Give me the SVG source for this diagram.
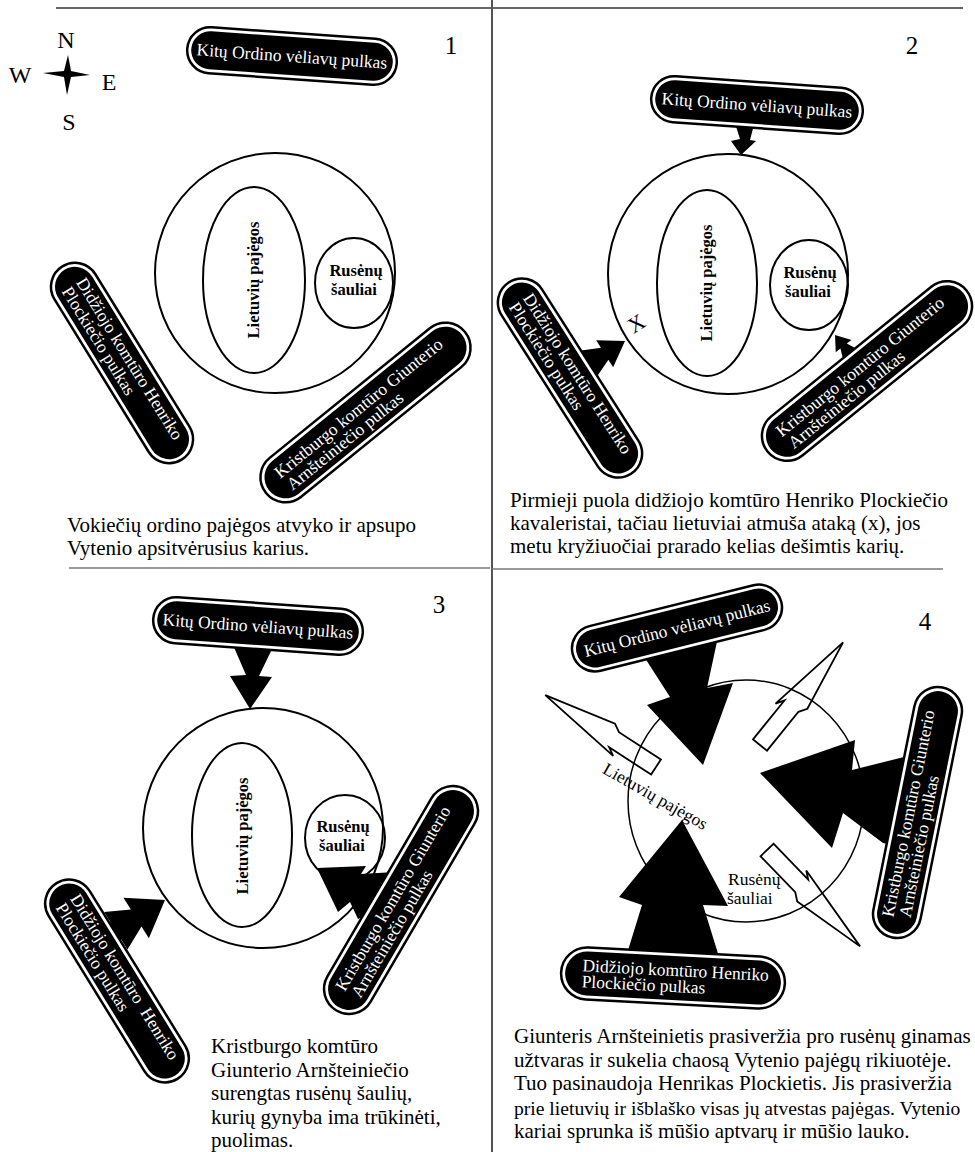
<svg xmlns="http://www.w3.org/2000/svg" width="975" height="1152" viewBox="0 0 975 1152">
<defs>
<style>
text{font-family:"Liberation Serif","DejaVu Serif",serif;fill:#000}
.cap{font-size:21px}
.num{font-size:25px;text-anchor:middle}
.cmp{font-size:24px;text-anchor:middle}
.lbl{font-size:17.5px;fill:#fff}
.lblc{font-size:17.5px;fill:#fff;text-anchor:middle}
.bold{font-size:16.5px;font-weight:bold;text-anchor:middle}
.reg{font-size:17.5px}
.po{fill:#fff;stroke:#000;stroke-width:2.5}
.pi{fill:#000}
.ring{fill:none;stroke:#000;stroke-width:2}
.thin{fill:none;stroke:#000;stroke-width:1.5}
.arr{fill:#000}
.bolt{fill:none;stroke:#000;stroke-width:1.8;stroke-linejoin:miter}
</style>
</defs>
<rect width="975" height="1152" fill="#fff"/>
<g id="dividers">
<line x1="56" y1="8" x2="963" y2="8" stroke="#333" stroke-width="1.5"/>
<line x1="492" y1="0" x2="492" y2="1152" stroke="#555" stroke-width="2"/>
<line x1="69" y1="568" x2="490" y2="568" stroke="#777" stroke-width="1.5"/>
<line x1="492" y1="569" x2="943" y2="569" stroke="#777" stroke-width="1.5"/>
</g>

<!-- Panel 1 -->
<g id="p1-compass">
<polygon points="68,55 71,71 90,75 71,77 67,95 64,77 43,73 64,71" fill="#000"/>
<text class="cmp" x="66" y="48">N</text>
<text class="cmp" x="20" y="83">W</text>
<text class="cmp" x="109" y="90">E</text>
<text class="cmp" x="69" y="130">S</text>
</g>
<text class="num" x="451" y="54">1</text>
<g id="p1-camp"><circle class="ring" cx="275" cy="273" r="120"/></g>
<g id="p1-lietuviai"><ellipse class="ring" cx="254" cy="280" rx="51" ry="93"/><text class="bold" transform="translate(259,280) rotate(-90)">Lietuvių pajėgos</text></g>
<g id="p1-rusenai"><ellipse class="ring" cx="354" cy="283" rx="39" ry="45"/><text class="bold" x="356" y="276">Rusėnų</text><text class="bold" x="354" y="295">šauliai</text></g>

<!-- Panel 2 -->
<text class="num" x="912" y="54">2</text>
<g id="p2-camp"><circle class="ring" cx="728" cy="274" r="120"/></g>
<g id="p2-lietuviai"><ellipse class="ring" cx="707" cy="283" rx="50" ry="93"/><text class="bold" transform="translate(712,283) rotate(-90)">Lietuvių pajėgos</text></g>
<g id="p2-rusenai"><ellipse class="ring" cx="809" cy="285" rx="39" ry="45"/><text class="bold" x="810" y="278">Rusėnų</text><text class="bold" x="808" y="297">šauliai</text></g>
<text transform="translate(636,323) rotate(-32)" x="0" y="8" font-size="22" text-anchor="middle">X</text>

<!-- Panel 3 -->
<text class="num" x="439" y="613">3</text>
<g id="p3-camp"><circle class="ring" cx="263" cy="828" r="120"/></g>
<g id="p3-lietuviai"><ellipse class="ring" cx="242" cy="835" rx="50" ry="92"/><text class="bold" transform="translate(248,836) rotate(-90)">Lietuvių pajėgos</text></g>
<g id="p3-rusenai"><ellipse class="ring" cx="345" cy="838" rx="40" ry="43"/><text class="bold" x="343" y="832">Rusėnų</text><text class="bold" x="342" y="851">šauliai</text></g>

<!-- Panel 4 -->
<text class="num" x="925" y="630">4</text>
<g id="p4-camp"><ellipse class="thin" cx="746" cy="801" rx="118" ry="121"/></g>

<g id="connectors">
<!-- panel 2 -->
<polygon class="arr" points="734,120 755,121 750,140 756,141 741,155 731,141 740,139"/>
<polygon class="arr" transform="translate(625,341) rotate(58)" points="0,0 16,24 7,24 15,42 7,42 7,56 -7,56 -7,42 -15,42 -7,24 -16,24"/>
<polygon class="arr" transform="translate(835,335) rotate(-38)" points="0,0 10,14 4,14 9,25 4,25 4,36 -4,36 -4,25 -9,25 -4,14 -10,14"/>
<!-- panel 3 -->
<polygon class="arr" points="233,645 273,647 259,676 272,677 250,709 230,676 246,675"/>
<polygon class="arr" transform="translate(165,900) rotate(58)" points="0,0 24,34 10,34 22,58 10,58 10,74 -10,74 -10,58 -22,58 -10,34 -24,34"/>
<polygon class="arr" points="317,868 366,866 361,874 395,872 378,910 358,919 350,902 338,912"/>
<!-- panel 4 -->
<polygon class="arr" points="643,655 670,697 647,705 703,765 733,683 707,688 718,637"/>
<polygon class="arr" points="760,773 855,740 852,770 912,755 892,845 883,843 843,813 832,848"/>
<polygon class="arr" points="682,820 728,906 703,905 720,960 625,960 642,905 619,897"/>
<path class="bolt" transform="translate(656,767) rotate(-147)" d="M0,-9 L50,-9 L42,-14 L132,0 L58,14 L50,9 L0,9 Z"/>
<path class="bolt" transform="translate(760,745) rotate(-51)" d="M0,-9 L50,-9 L42,-14 L132,0 L58,14 L50,9 L0,9 Z"/>
<path class="bolt" transform="translate(767,850) rotate(46)" d="M0,-9 L50,-9 L42,-14 L134,0 L58,14 L50,9 L0,9 Z"/>
</g>

<g id="p4-lietuviai"><text class="reg" transform="translate(655,797) rotate(29.6)" x="0" y="5" text-anchor="middle">Lietuvių pajėgos</text></g>
<g id="p4-rusenai"><text class="reg" x="728" y="885">Rusėnų</text><text class="reg" x="727" y="904">šauliai</text></g>

<!-- Boxes -->
<g id="p1-kitu" transform="translate(292,56) rotate(4)">
<rect class="po" x="-105" y="-23" width="210" height="46" rx="23"/>
<rect class="pi" x="-101" y="-19" width="202" height="38" rx="19"/>
<text class="lblc" x="0" y="6">Kitų Ordino vėliavų pulkas</text>
</g>
<g id="p1-didziojo" transform="translate(122,363) rotate(58.3)">
<rect class="po" x="-113.5" y="-24" width="227" height="48" rx="24"/>
<rect class="pi" x="-109.5" y="-20" width="219" height="40" rx="20"/>
<text class="lbl" x="-93" y="-3">Didžiojo komtūro Henriko</text>
<text class="lbl" x="-93" y="14">Plockiečio pulkas</text>
</g>
<g id="p1-kristburgo" transform="translate(365.5,412.5) rotate(-39)">
<rect class="po" x="-128" y="-25" width="256" height="50" rx="25"/>
<rect class="pi" x="-124" y="-21" width="248" height="42" rx="21"/>
<text class="lbl" x="-108" y="-2">Kristburgo komtūro Giunterio</text>
<text class="lbl" x="-106" y="15">Arnšteiniečio pulkas</text>
</g>

<g id="p2-kitu" transform="translate(757,105) rotate(4)">
<rect class="po" x="-106" y="-23" width="212" height="46" rx="23"/>
<rect class="pi" x="-102" y="-19" width="204" height="38" rx="19"/>
<text class="lblc" x="0" y="6">Kitų Ordino vėliavų pulkas</text>
</g>
<g id="p2-didziojo" transform="translate(570,378) rotate(57.5)">
<rect class="po" x="-113.5" y="-24" width="227" height="48" rx="24"/>
<rect class="pi" x="-109.5" y="-20" width="219" height="40" rx="20"/>
<text class="lbl" x="-93" y="-3">Didžiojo komtūro Henriko</text>
<text class="lbl" x="-93" y="14">Plockiečio pulkas</text>
</g>
<g id="p2-kristburgo" transform="translate(867,371) rotate(-39)">
<rect class="po" x="-128" y="-25" width="256" height="50" rx="25"/>
<rect class="pi" x="-124" y="-21" width="248" height="42" rx="21"/>
<text class="lbl" x="-108" y="-2">Kristburgo komtūro Giunterio</text>
<text class="lbl" x="-106" y="15">Arnšteiniečio pulkas</text>
</g>

<g id="p3-kitu" transform="translate(258,626) rotate(4)">
<rect class="po" x="-105" y="-23" width="210" height="46" rx="23"/>
<rect class="pi" x="-101" y="-19" width="202" height="38" rx="19"/>
<text class="lblc" x="0" y="6">Kitų Ordino vėliavų pulkas</text>
</g>
<g id="p3-didziojo" transform="translate(117,981) rotate(58.3)">
<rect class="po" x="-115" y="-24" width="230" height="48" rx="24"/>
<rect class="pi" x="-111" y="-20" width="222" height="40" rx="20"/>
<text class="lbl" x="-95" y="-3" xml:space="preserve">Didžiojo komtūro  Henriko</text>
<text class="lbl" x="-95" y="14">Plockiečio pulkas</text>
</g>
<g id="p3-kristburgo" transform="translate(401,900) rotate(-59.7)">
<rect class="po" x="-128" y="-25" width="256" height="50" rx="25"/>
<rect class="pi" x="-124" y="-21" width="248" height="42" rx="21"/>
<text class="lbl" x="-108" y="-2">Kristburgo komtūro Giunterio</text>
<text class="lbl" x="-106" y="15">Arnšteiniečio pulkas</text>
</g>

<g id="p4-kitu" transform="translate(677,628) rotate(-14)">
<rect class="po" x="-107.5" y="-23" width="215" height="46" rx="23"/>
<rect class="pi" x="-103.5" y="-19" width="207" height="38" rx="19"/>
<text class="lblc" x="0" y="6">Kitų Ordino vėliavų pulkas</text>
</g>
<g id="p4-kristburgo" transform="translate(917.5,812.5) rotate(-78.6)">
<rect class="po" x="-127.5" y="-24" width="255" height="48" rx="24"/>
<rect class="pi" x="-123.5" y="-20" width="247" height="40" rx="20"/>
<text class="lbl" x="-108" y="-3">Kristburgo komtūro Giunterio</text>
<text class="lbl" x="-105" y="14">Arnšteiniečio pulkas</text>
</g>
<g id="p4-didziojo" transform="translate(673,978) rotate(3)">
<rect class="po" x="-112" y="-26" width="224" height="52" rx="26"/>
<rect class="pi" x="-108" y="-22" width="216" height="44" rx="22"/>
<text class="lbl" x="-91" y="-2">Didžiojo komtūro Henriko</text>
<text class="lbl" x="-91" y="14">Plockiečio pulkas</text>
</g>

<!-- Captions -->
<g id="captions">
<text class="cap" x="67" y="532">Vokiečių ordino pajėgos atvyko ir apsupo</text>
<text class="cap" x="67" y="555">Vytenio apsitvėrusius karius.</text>
<text class="cap" x="510" y="507">Pirmieji puola didžiojo komtūro Henriko Plockiečio</text>
<text class="cap" x="510" y="530">kavaleristai, tačiau lietuviai atmuša ataką (x), jos</text>
<text class="cap" x="510" y="553">metu kryžiuočiai prarado kelias dešimtis karių.</text>
<text class="cap" x="211" y="1053">Kristburgo komtūro</text>
<text class="cap" x="211" y="1077">Giunterio Arnšteiniečio</text>
<text class="cap" x="211" y="1100">surengtas rusėnų šaulių,</text>
<text class="cap" x="211" y="1124">kurių gynyba ima trūkinėti,</text>
<text class="cap" x="211" y="1147">puolimas.</text>
<text class="cap" x="514" y="1043" font-size="20.5">Giunteris Arnšteinietis prasiveržia pro rusėnų ginamas</text>
<text class="cap" x="514" y="1067">užtvaras ir sukelia chaosą Vytenio pajėgų rikiuotėje.</text>
<text class="cap" x="514" y="1090">Tuo pasinaudoja Henrikas Plockietis. Jis prasiveržia</text>
<text class="cap" x="514" y="1115" style="font-size:19.6px">prie lietuvių ir išblaško visas jų atvestas pajėgas. Vytenio</text>
<text class="cap" x="514" y="1138">kariai sprunka iš mūšio aptvarų ir mūšio lauko.</text>
</g>
</svg>
